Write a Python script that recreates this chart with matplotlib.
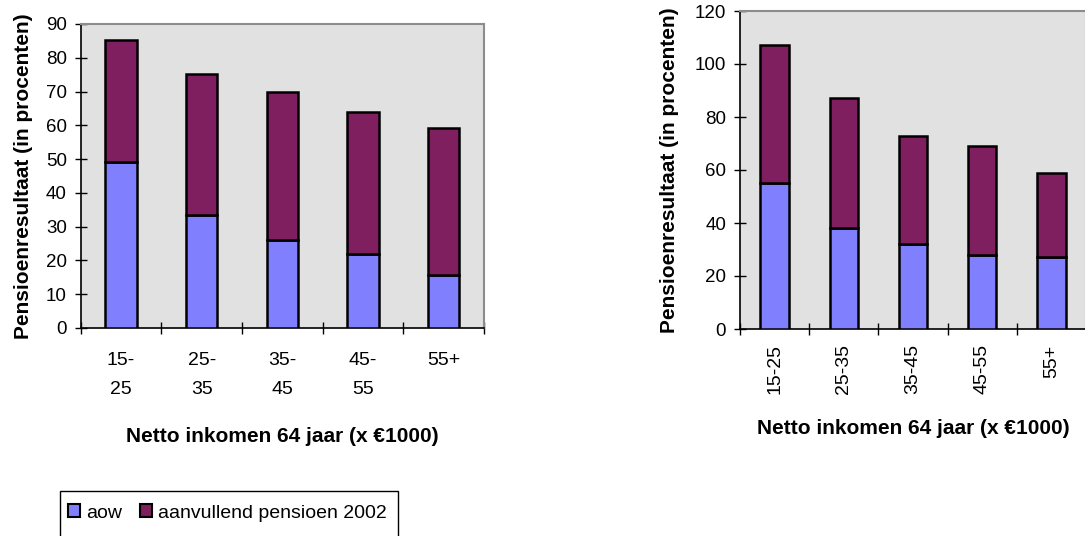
import matplotlib
matplotlib.use("Agg")
import matplotlib.pyplot as plt
from matplotlib.patches import Rectangle, Patch
import numpy as np

plt.rcParams['font.family'] = ['Liberation Sans', 'DejaVu Sans']

categories = ["15-25", "25-35", "35-45", "45-55", "55+"]

# Pensioenresultaat, linker grafiek
aow_left = [49, 33.5, 26, 21.8, 15.8]
aanvullend_left = [36.3, 41.6, 43.8, 42.0, 43.5]

# Pensioenresultaat, rechter grafiek
aow_right = [55, 38, 32, 28, 27]
aanvullend_right = [52, 49, 41, 41, 32]

series_names = ["aow", "aanvullend pensioen 2002"]

COL_AOW = "#8080ff"
COL_AANV = "#7f1f5f"
BG = "#e1e1e1"

fig = plt.figure(figsize=(10.85, 5.36), dpi=100)

ax1 = fig.add_axes([80.7 / 1085, 1 - 328 / 536, (484 - 80.7) / 1085, (328 - 24) / 536])
ax2 = fig.add_axes([740 / 1085, 1 - 329 / 536, (1086 - 740) / 1085, (329 - 11) / 536])


def style_axes(ax, ymax, ystep, xlabels, rotation, pad):
    x = np.arange(len(categories))
    ax.set_facecolor(BG)
    ax.set_xlim(-0.5, len(categories) - 0.5)
    ax.set_ylim(0, ymax)
    ax.set_yticks(np.arange(0, ymax + 1, ystep))
    ax.set_xticks(x)
    ax.set_xticklabels(xlabels, rotation=rotation, fontsize=14,
                       linespacing=1.95 if rotation == 0 else 1.0)
    ax.set_xticks(np.arange(-0.5, len(categories), 1.0), minor=True)
    ax.tick_params(axis='x', which='major', length=0, pad=pad)
    ax.tick_params(axis='x', which='minor', direction='inout', length=8, width=1, color='black')
    ax.tick_params(axis='y', direction='inout', length=8, width=1, labelsize=13.5, pad=6)
    for side in ('top', 'right'):
        ax.spines[side].set_color('#8c8c8c')
        ax.spines[side].set_linewidth(1.5)
    for side in ('left', 'bottom'):
        ax.spines[side].set_color('black')
        ax.spines[side].set_linewidth(1.2)


def draw_bars(ax, aow, aanv, width):
    x = np.arange(len(categories))
    ax.bar(x, aow, width, color=COL_AOW, edgecolor='black', linewidth=1.8, zorder=3)
    ax.bar(x, aanv, width, bottom=aow, color=COL_AANV, edgecolor='black', linewidth=1.8, zorder=3)


left_labels = [c.replace("-", "-\n") if "-" in c else c for c in categories]
style_axes(ax1, 90, 10, left_labels, 0, 17)
draw_bars(ax1, aow_left, aanvullend_left, 0.39)
ax1.set_ylabel("Pensioenresultaat (in procenten)", fontsize=15, fontweight='bold', labelpad=9)
ax1.set_xlabel("Netto inkomen 64 jaar (x €1000)", fontsize=15, fontweight='bold', labelpad=21)

style_axes(ax2, 120, 20, categories, 90, 11)
draw_bars(ax2, aow_right, aanvullend_right, 0.41)
ax2.set_ylabel("Pensioenresultaat (in procenten)", fontsize=15, fontweight='bold', labelpad=11)
ax2.set_xlabel("Netto inkomen 64 jaar (x €1000)", fontsize=15, fontweight='bold', labelpad=18)

# Legend with its frame running off the bottom edge
frame = Rectangle((60 / 1085, -0.05), (398 - 60) / 1085, 0.05 + (536 - 491) / 536,
                  transform=fig.transFigure, facecolor='white', edgecolor='black',
                  linewidth=1.0, clip_on=False)
fig.patches.append(frame)
handles = [Patch(facecolor=COL_AOW, edgecolor='black', linewidth=1.5),
           Patch(facecolor=COL_AANV, edgecolor='black', linewidth=1.5)]
fig.legend(handles, series_names, loc='center left',
           bbox_to_anchor=(62 / 1085, 1 - 513 / 536), ncol=2, frameon=False,
           fontsize=14, handlelength=0.65, handleheight=0.65, handletextpad=0.3,
           columnspacing=0.9, borderaxespad=0, borderpad=0.3)

fig.savefig("out.png", dpi=100)
